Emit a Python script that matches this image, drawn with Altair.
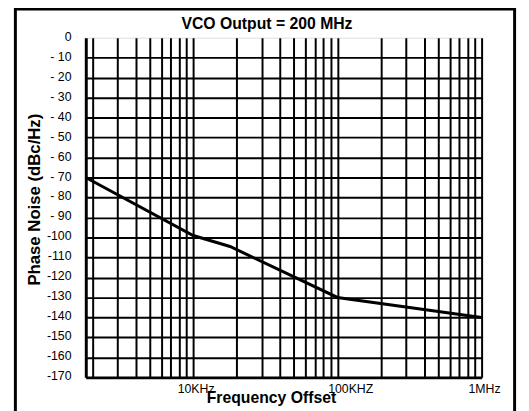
import altair as alt
import pandas as pd

# ---- data ----
freq_hz = [1800, 10000, 18000, 100000, 1000000]
noise_dbc = [-70, -99, -104.5, -130, -140]

x_grid_values = [2000, 3000, 4000, 5000, 6000, 7000, 8000, 9000,
                 10000, 20000, 30000, 40000, 50000, 60000, 70000, 80000, 90000,
                 100000, 200000, 300000, 400000, 500000, 600000, 700000, 800000, 900000,
                 1000000]
x_label_values = [10000, 100000, 1000000]
x_label_texts = ["10KHz", "100KHZ", "1MHz"]

y_tick_values = [0, -10, -20, -30, -40, -50, -60, -70, -80, -90,
                 -100, -110, -120, -130, -140, -150, -160, -170]
y_tick_labels = ["0", "- 10", "- 20", "- 30", "- 40", "- 50", "- 60", "- 70", "- 80", "- 90",
                 "-100", "-110", "-120", "-130", "-140", "-150", "-160", "-170"]

title_text = "VCO Output = 200 MHz"
x_title = "Frequency Offset"
y_title = "Phase Noise (dBc/Hz)"

df = pd.DataFrame({"freq": freq_hz, "noise": noise_dbc})

FONT = "Liberation Sans"

x_expr = "[" + ",".join("'" + t + "'" for t in x_label_texts) + "][indexof([" + \
    ",".join(str(v) for v in x_label_values) + "], datum.value)] || ''"
y_expr = "[" + ",".join("'" + t + "'" for t in y_tick_labels) + "][indexof([" + \
    ",".join(str(v) for v in y_tick_values) + "], datum.value)]"

x_axis = alt.Axis(
    values=x_grid_values, labelExpr=x_expr, ticks=False, tickSize=0,
    grid=True, gridColor="black", gridWidth=2, gridOpacity=1,
    domainColor="black", domainWidth=3,
    labelFont=FONT, labelFontSize=12.5, labelColor="black", labelPadding=5,
    labelFlush=False, labelOverlap=False,
    labelOffset={"condition": {"test": "datum.value == 100000", "value": 13}, "value": 2.5},
    title=x_title, titleFont=FONT, titleFontSize=16, titleFontWeight="bold",
    titleColor="black", titleX=188, titleY=26, titleBaseline="alphabetic",
    titleAlign="center",
)

y_axis = alt.Axis(
    values=y_tick_values, labelExpr=y_expr, ticks=False, tickSize=0,
    grid=True, gridColor="black", gridWidth=2,
    gridOpacity={"condition": {"test": "datum.value == 0", "value": 0}, "value": 1},
    domainColor="black", domainWidth=3,
    labelFont=FONT, labelFontSize=12.5, labelColor="black", labelPadding=15,
    labelOverlap=False, labelOffset=-1.5,
    title=y_title, titleFont=FONT, titleFontSize=17, titleFontWeight="bold",
    titleColor="black", titleX=-47, titleY=164, titleBaseline="alphabetic",
    titleAlign="center", titleAngle=270,
)

line = alt.Chart(df).mark_line(color="black", strokeWidth=3).encode(
    x=alt.X("freq:Q", scale=alt.Scale(type="log", domain=[1800, 1000000], nice=False),
            axis=x_axis),
    y=alt.Y("noise:Q", scale=alt.Scale(domain=[-170, 0], nice=False, zero=False),
            axis=y_axis),
)

one_row = pd.DataFrame({"a": [0]})

frame = alt.Chart(one_row).mark_rect(
    fill="transparent", stroke="black", strokeWidth=3, clip=False
).encode(
    x=alt.value(-71.5), x2=alt.value(435.5), y=alt.value(-29), y2=alt.value(400)
)

title = alt.Chart(one_row).mark_text(
    font=FONT, fontSize=16, fontWeight="bold", color="black",
    align="center", baseline="alphabetic", clip=False
).encode(
    x=alt.value(184), y=alt.value(-8.5), text=alt.value(title_text)
)

chart = alt.layer(frame, line, title).properties(
    width=402, height=345,
    padding={"left": 79, "top": 27, "right": 40, "bottom": 31},
    autosize=alt.AutoSizeParams(type="none"),
).configure_view(strokeWidth=0).configure(background="white")

chart.save("out.html", embed_options={"renderer": "svg", "actions": False})
